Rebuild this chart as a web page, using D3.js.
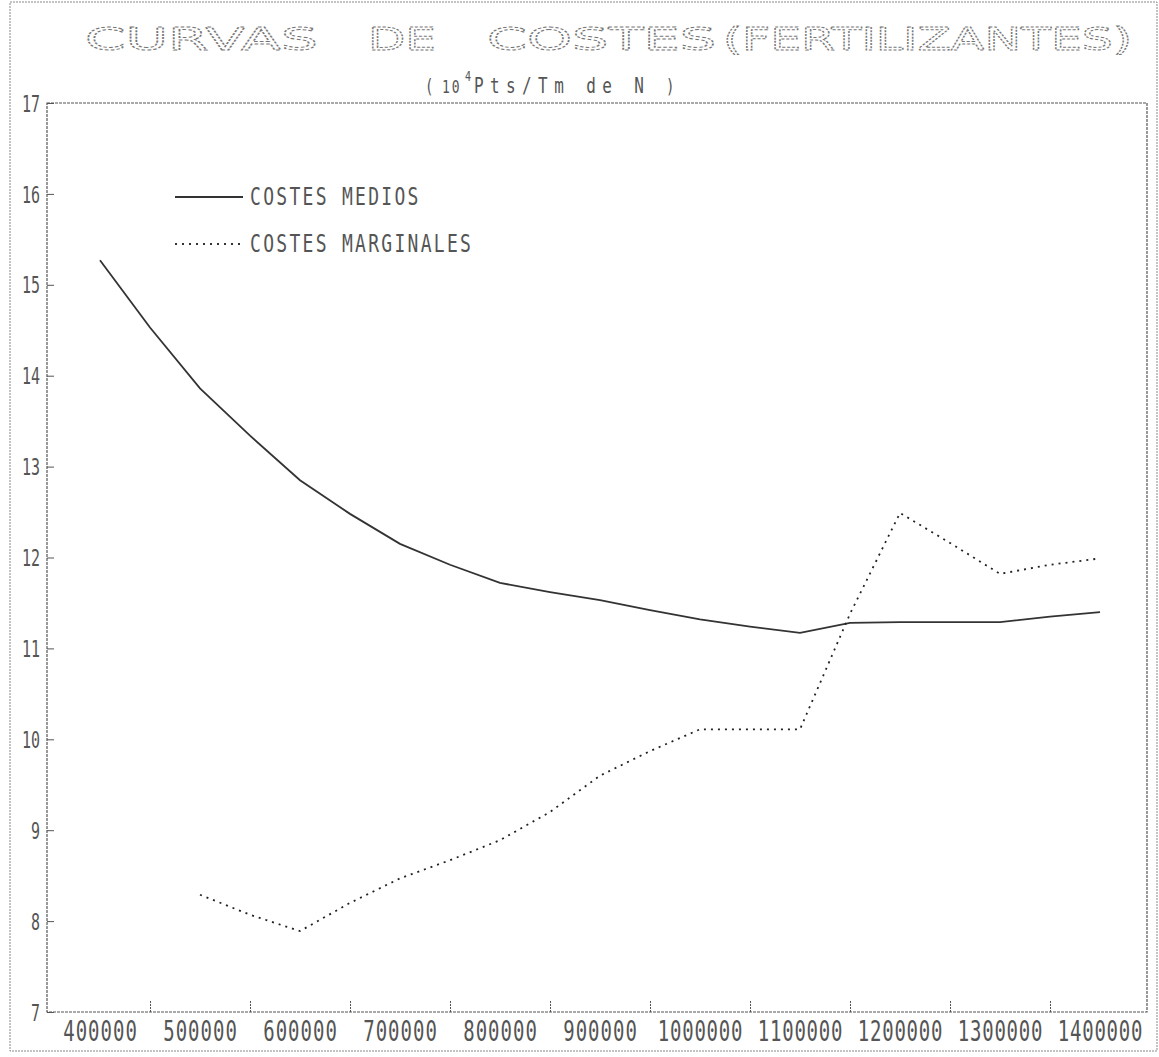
<!DOCTYPE html>
<html>
<head>
<meta charset="utf-8">
<script src="https://cdn.jsdelivr.net/npm/d3@7"></script>
<style>
  body { margin: 0; background: #fff; overflow: hidden; }
  svg text { font-family: "DejaVu Sans Mono", "Liberation Mono", monospace; fill: #555; }
</style>
</head>
<body>
<div id="grafico"></div>
<script>
// Données
const produccionMedios = [400000, 450000, 500000, 550000, 600000, 650000, 700000, 750000, 800000, 850000,
  900000, 950000, 1000000, 1050000, 1100000, 1150000, 1200000, 1250000, 1300000, 1350000, 1400000];
const costesMedios = [15.27, 14.53, 13.86, 13.34, 12.85, 12.48, 12.15, 11.92, 11.72, 11.62,
  11.53, 11.42, 11.32, 11.24, 11.17, 11.28, 11.29, 11.29, 11.29, 11.35, 11.40];

const produccionMarginal = [500000, 550000, 600000, 650000, 700000, 750000, 800000, 850000, 900000, 950000,
  1000000, 1050000, 1100000, 1150000, 1200000, 1250000, 1300000, 1350000, 1400000];
const costesMarginales = [8.29, 8.07, 7.89, 8.20, 8.47, 8.67, 8.89, 9.20, 9.60, 9.87,
  10.11, 10.11, 10.11, 11.38, 12.49, 12.16, 11.82, 11.92, 11.99];

const etiquetasX = [400000, 500000, 600000, 700000, 800000, 900000, 1000000, 1100000, 1200000, 1300000, 1400000];
const marcasX = [450000, 550000, 650000, 750000, 850000, 950000, 1050000, 1150000, 1250000, 1350000];
const marcasY = [7, 8, 9, 10, 11, 12, 13, 14, 15, 16, 17];

const leyenda = ["COSTES MEDIOS", "COSTES MARGINALES"];

// Dimensions
const largeur = 1159;
const hauteur = 1057;
const zone = {gauche: 47, droite: 1147, haut: 103, bas: 1012};

const svg = d3.select('#grafico')
  .append('svg')
  .attr('width', largeur)
  .attr('height', hauteur);

const x = d3.scaleLinear()
  .domain([347000, 1447000])
  .range([zone.gauche, zone.droite]);

const y = d3.scaleLinear()
  .domain([7, 17])
  .range([zone.bas, zone.haut]);

// Texte étroit et haut, comme la police du traceur
function texte(parent, px, py, t, taille, etirement, espacement) {
  return parent.append('text')
    .attr('transform', `translate(${px}, ${py}) scale(1, ${etirement})`)
    .style('font-size', taille + 'px')
    .style('letter-spacing', (espacement || 0) + 'px')
    .text(t);
}

// Cadre extérieur
svg.append('rect')
  .attr('x', 10).attr('y', 2)
  .attr('width', 1147).attr('height', 1049)
  .attr('fill', 'none')
  .attr('stroke', '#888')
  .attr('stroke-width', 1)
  .attr('stroke-dasharray', '2,1');

// Titre (lettres creuses)
const titre = [
  {t: "CURVAS", x: 85, l: 233},
  {t: "DE", x: 368, l: 68},
  {t: "COSTES", x: 487, l: 229},
  {t: "(FERTILIZANTES)", x: 723, l: 409}
];
svg.append('g')
  .selectAll('text')
  .data(titre)
  .enter()
  .append('text')
  .attr('x', d => d.x)
  .attr('y', 50)
  .attr('textLength', d => d.l)
  .attr('lengthAdjust', 'spacingAndGlyphs')
  .style('font-family', '"DejaVu Sans", sans-serif')
  .style('font-size', '32px')
  .style('fill', '#fff')
  .style('stroke', '#777')
  .style('stroke-width', 1)
  .style('stroke-dasharray', '2,1.2')
  .text(d => d.t);

// Sous-titre
texte(svg, 425, 93, '(', 14, 1.35, 0);
texte(svg, 442, 93, '10', 13, 1.4, 2);
texte(svg, 465, 81, '4', 10, 1.4, 0);
texte(svg, 474, 93, 'Pts/Tm de N', 16, 1.35, 6.4);
texte(svg, 666, 93, ')', 14, 1.35, 0);

// Cadre du graphique
svg.append('rect')
  .attr('x', zone.gauche).attr('y', zone.haut)
  .attr('width', zone.droite - zone.gauche)
  .attr('height', zone.bas - zone.haut)
  .attr('fill', 'none')
  .attr('stroke', '#555')
  .attr('stroke-width', 1.2)
  .attr('stroke-dasharray', '3,1');

// Axe X : petites marques entre les catégories
svg.append('g')
  .attr('transform', `translate(0, ${zone.bas})`)
  .call(d3.axisBottom(x).tickValues(marcasX).tickSize(-12).tickFormat(''))
  .call(g => g.select('.domain').remove())
  .call(g => g.selectAll('line').attr('stroke', '#555').attr('stroke-dasharray', '2,1'));

// Axe X : étiquettes
svg.append('g')
  .attr('transform', `translate(0, ${zone.bas})`)
  .call(d3.axisBottom(x).tickValues(etiquetasX).tickSize(0).tickFormat(d3.format('d')))
  .call(g => g.select('.domain').remove())
  .call(g => g.selectAll('text')
    .attr('dy', null)
    .attr('y', 19.5)
    .attr('transform', 'scale(1, 1.5)')
    .style('font-size', '19px')
    .style('letter-spacing', d => String(d).length === 7 ? '0.8px' : '1px')
    .style('font-family', '"DejaVu Sans Mono", monospace')
    .style('fill', '#555'));

// Axe Y
svg.append('g')
  .attr('transform', `translate(${zone.gauche}, 0)`)
  .call(d3.axisLeft(y).tickValues(marcasY).tickSize(-7).tickPadding(7).tickFormat(d3.format('d')))
  .call(g => g.select('.domain').remove())
  .call(g => g.selectAll('line').attr('stroke', '#555'))
  .call(g => g.selectAll('text')
    .attr('dy', null)
    .attr('y', 5.4)
    .attr('transform', 'scale(1, 1.5)')
    .style('font-size', '15px')
    .style('font-family', '"DejaVu Sans Mono", monospace')
    .style('fill', '#555'));

// Courbes
const ligne = d3.line()
  .x(d => x(d[0]))
  .y(d => y(d[1]));

svg.append('path')
  .datum(d3.zip(produccionMedios, costesMedios))
  .attr('d', ligne)
  .attr('fill', 'none')
  .attr('stroke', '#333')
  .attr('stroke-width', 1.8);

svg.append('path')
  .datum(d3.zip(produccionMarginal, costesMarginales))
  .attr('d', ligne)
  .attr('fill', 'none')
  .attr('stroke', '#222')
  .attr('stroke-width', 1.8)
  .attr('stroke-dasharray', '2,5');

// Légende
const styles = [{dash: null, y: 197}, {dash: '2,5', y: 244}];
const legende = svg.append('g');
legende.selectAll('line')
  .data(leyenda)
  .enter()
  .append('line')
  .attr('x1', 175).attr('x2', 243)
  .attr('y1', (d, i) => styles[i].y)
  .attr('y2', (d, i) => styles[i].y)
  .attr('stroke', '#333')
  .attr('stroke-width', 1.8)
  .attr('stroke-dasharray', (d, i) => styles[i].dash);
leyenda.forEach((d, i) => texte(legende, 250, styles[i].y + 8, d, 18, 1.35, 2.3));
</script>
</body>
</html>
